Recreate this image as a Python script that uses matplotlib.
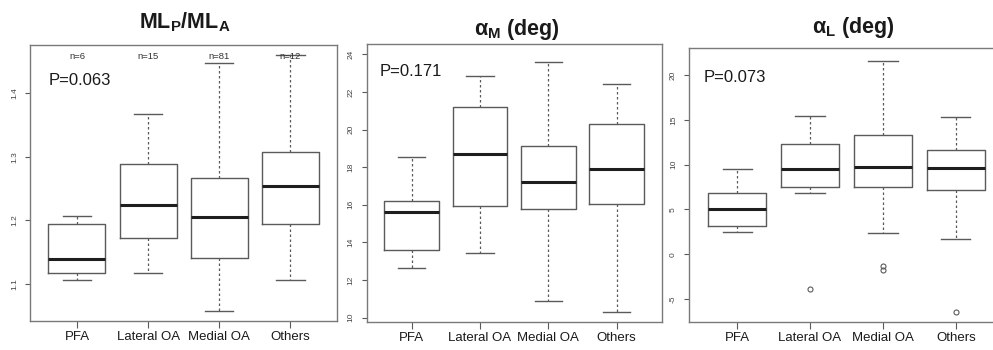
import matplotlib
matplotlib.use("Agg")
import matplotlib.pyplot as plt

plt.rcParams['font.family'] = ['Liberation Sans', 'DejaVu Sans']
plt.rcParams['mathtext.fontset'] = 'custom'
plt.rcParams['mathtext.rm'] = 'Liberation Sans'
plt.rcParams['mathtext.bf'] = 'Liberation Sans:bold'
plt.rcParams['mathtext.it'] = 'Liberation Sans:italic'

groups = ["PFA", "Lateral OA", "Medial OA", "Others"]
group_n = [6, 15, 81, 12]

# ML_P / ML_A
ratio_whislo = [1.106, 1.117, 1.056, 1.105]
ratio_q1 = [1.116, 1.172, 1.140, 1.194]
ratio_med = [1.139, 1.224, 1.205, 1.253]
ratio_q3 = [1.194, 1.289, 1.266, 1.308]
ratio_whishi = [1.207, 1.368, 1.447, 1.460]
ratio_fliers = [[], [], [], []]
ratio_p = "P=0.063"

# alpha_M (deg)
am_whislo = [12.61, 13.41, 10.89, 10.30]
am_q1 = [13.62, 15.91, 15.80, 16.03]
am_med = [15.62, 18.72, 17.22, 17.92]
am_q3 = [16.21, 21.22, 19.12, 20.27]
am_whishi = [18.53, 22.83, 23.57, 22.43]
am_fliers = [[], [], [], []]
am_p = "P=0.171"

# alpha_L (deg)
al_whislo = [2.50, 6.88, 2.39, 1.75]
al_q1 = [3.17, 7.49, 7.49, 7.19]
al_med = [5.01, 9.55, 9.74, 9.62]
al_q3 = [6.88, 12.28, 13.26, 11.65]
al_whishi = [9.47, 15.39, 21.58, 15.28]
al_fliers = [[], [-3.91], [-1.28, -1.73], [-6.42]]
al_p = "P=0.073"

W, H = 993, 350
fig = plt.figure(figsize=(W / 100, H / 100), dpi=100)


def px_rect(x0, y0, x1, y1):
    return [x0 / W, 1 - y1 / H, (x1 - x0) / W, (y1 - y0) / H]


def px_pt(x, y):
    return x / W, 1 - y / H


LINE = '#5a5a5a'
TXT = '#1a1a1a'


def draw_panel(rect, whislo, q1, med, q3, whishi, fliers, ylim, yticks):
    ax = fig.add_axes(rect)
    stats = []
    for i in range(len(groups)):
        stats.append(dict(whislo=whislo[i], q1=q1[i], med=med[i], q3=q3[i],
                          whishi=whishi[i], fliers=fliers[i], label=groups[i]))
    ax.bxp(stats, positions=range(1, len(groups) + 1), widths=0.8,
           boxprops=dict(color=LINE, linewidth=1.0),
           medianprops=dict(color='#1e1e1e', linewidth=2.2),
           whiskerprops=dict(color=LINE, linewidth=0.9, linestyle=(0, (2.0, 2.0))),
           capprops=dict(color=LINE, linewidth=1.0), capwidths=0.4,
           flierprops=dict(marker='o', markersize=3.6, markerfacecolor='none',
                           markeredgecolor=LINE, markeredgewidth=0.8))
    ax.set_xlim(0.34, 4.66)
    ax.set_ylim(*ylim)
    ax.set_yticks(yticks)
    ax.set_yticklabels([f"{t:g}" for t in yticks], rotation=90, va='center',
                       fontsize=6, color='#444444')
    ax.set_xticks(range(1, len(groups) + 1))
    ax.set_xticklabels(groups, fontsize=9.5, color=TXT)
    ax.tick_params(axis='x', length=4.8, width=0.8, color=LINE, pad=2.5)
    ax.tick_params(axis='y', length=3.6, width=0.8, color=LINE, pad=5.0)
    for s in ax.spines.values():
        s.set_color('#7a7a7a')
        s.set_linewidth(1.0)
    return ax


ax1 = draw_panel(px_rect(30, 45, 337.3, 321), ratio_whislo, ratio_q1, ratio_med,
                 ratio_q3, ratio_whishi, ratio_fliers, (1.041, 1.476),
                 [1.1, 1.2, 1.3, 1.4])
ax2 = draw_panel(px_rect(366.7, 44, 661.7, 321.7), am_whislo, am_q1, am_med,
                 am_q3, am_whishi, am_fliers, (9.78, 24.55),
                 [10, 12, 14, 16, 18, 20, 22, 24])
ax3 = draw_panel(px_rect(689, 48.3, 1004, 321.7), al_whislo, al_q1, al_med,
                 al_q3, al_whishi, al_fliers, (-7.54, 23.0),
                 [-5, 0, 5, 10, 15, 20])

# sample sizes along the top of the first panel
for i, n in enumerate(group_n):
    ax1.text(i + 1, 1.458, f"n={n}", ha='center', va='center', fontsize=6.8,
             color='#333333')

# p-values
for (x, y), p in zip([(48.3, 80.7), (379.3, 71.7), (703.3, 77.3)],
                     [ratio_p, am_p, al_p]):
    fig.text(*px_pt(x, y), p, ha='left', va='center', fontsize=12, color=TXT)

# panel titles
titles = [r'$\mathbf{ML_P/ML_A}$', r'$\mathbf{α_M}$ (deg)', r'$\mathbf{α_L}$ (deg)']
for (x, y), t in zip([(185, 28.5), (517, 35), (853, 33)], titles):
    fig.text(*px_pt(x, y), t, ha='center', va='baseline', fontsize=15.5,
             fontweight='bold', color=TXT)

fig.savefig("out.png", dpi=100, facecolor='white')
